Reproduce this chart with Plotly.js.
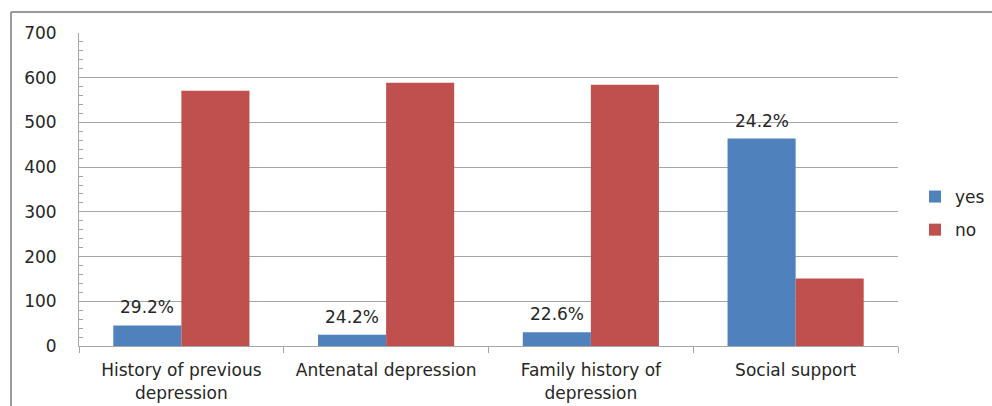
<!DOCTYPE html>
<html>
<head>
<meta charset="utf-8">
<script src="https://cdn.plot.ly/plotly-3.0.1.min.js"></script>
<style>
  html, body { margin: 0; padding: 0; background: #fff; }
  #chart { width: 992px; height: 406px; }
</style>
</head>
<body>
<div id="chart"></div>
<script>
// Risk factors (category axis)
const categories = [
  "History of previous<br>depression",
  "Antenatal depression",
  "Family history of<br>depression",
  "Social support"
];
// Counts per answer
const yesValues = [46, 25, 31, 464];
const noValues = [571, 589, 584, 151];
// Percentage labels shown above the "yes" bars
const yesLabels = ["29.2%", "24.2%", "22.6%", "24.2%"];

const seriesNames = ["yes", "no"];
const BLUE = "#4F81BD";
const RED = "#C0504D";
const GRID = "#A6A6A6";
const TEXT = "#262626";
const FONT = "DejaVu Sans, Verdana, sans-serif";
const FS = 17;

const W = 992, H = 406;
const M = { l: 79, r: 94, t: 33, b: 60, autoexpand: false };
const PW = W - M.l - M.r, PH = H - M.t - M.b;
// Pixel -> paper helpers for the outer frame and legend
const px = v => (v - M.l) / PW;
const py = v => (H - M.b - v) / PH;

const traces = [
  {
    type: "bar", name: seriesNames[0], x: categories, y: yesValues,
    marker: { color: BLUE }, legendgroup: "g1", hoverinfo: "x+y"
  },
  {
    type: "bar", name: seriesNames[1], x: categories, y: noValues,
    marker: { color: RED }, legendgroup: "g2", hoverinfo: "x+y"
  }
];

// Labels above the blue bars
const annotations = categories.map((c, i) => ({
  x: c, y: yesValues[i], xref: "x", yref: "y",
  text: yesLabels[i], showarrow: false,
  xanchor: "center", yanchor: "bottom",
  xshift: -34, yshift: 6,
  font: { family: FONT, size: FS, color: TEXT }
}));

const layout = {
  width: W, height: H,
  margin: M,
  paper_bgcolor: "#fff", plot_bgcolor: "#fff",
  barmode: "group",
  bargap: 0.335, bargroupgap: 0,
  font: { family: FONT, size: FS, color: TEXT },
  showlegend: true,
  legend: {
    x: px(915), y: py(179), xanchor: "left", yanchor: "top",
    traceorder: "grouped", tracegroupgap: 8,
    font: { family: FONT, size: FS, color: TEXT },
    itemwidth: 30, bgcolor: "rgba(0,0,0,0)"
  },
  xaxis: {
    type: "category",
    showgrid: false,
    showline: true, linecolor: GRID, linewidth: 1,
    ticks: "outside", tickson: "boundaries", ticklen: 6, tickcolor: GRID,
    tickfont: { family: FONT, size: FS, color: TEXT },
    ticklabelstandoff: 9,
    zeroline: false
  },
  yaxis: {
    range: [0, 700], dtick: 100,
    showgrid: true, gridcolor: GRID, gridwidth: 1,
    showline: true, linecolor: GRID, linewidth: 1,
    ticks: "", zeroline: false,
    tickfont: { family: FONT, size: FS, color: TEXT },
    ticklabelstandoff: 18,
    minor: { dtick: 20, ticks: "inside", ticklen: 4, tickcolor: GRID, showgrid: false }
  },
  annotations: annotations,
  shapes: [
    // Outer frame: top and left edges
    { type: "line", xref: "paper", yref: "paper",
      x0: px(11), x1: px(W + 5), y0: py(12), y1: py(12),
      line: { color: "#9A9A9A", width: 2 } },
    { type: "line", xref: "paper", yref: "paper",
      x0: px(11), x1: px(11), y0: py(12), y1: py(H + 5),
      line: { color: "#9A9A9A", width: 2 } }
  ]
};

Plotly.newPlot("chart", traces, layout, { displayModeBar: false, staticPlot: true });
</script>
</body>
</html>
